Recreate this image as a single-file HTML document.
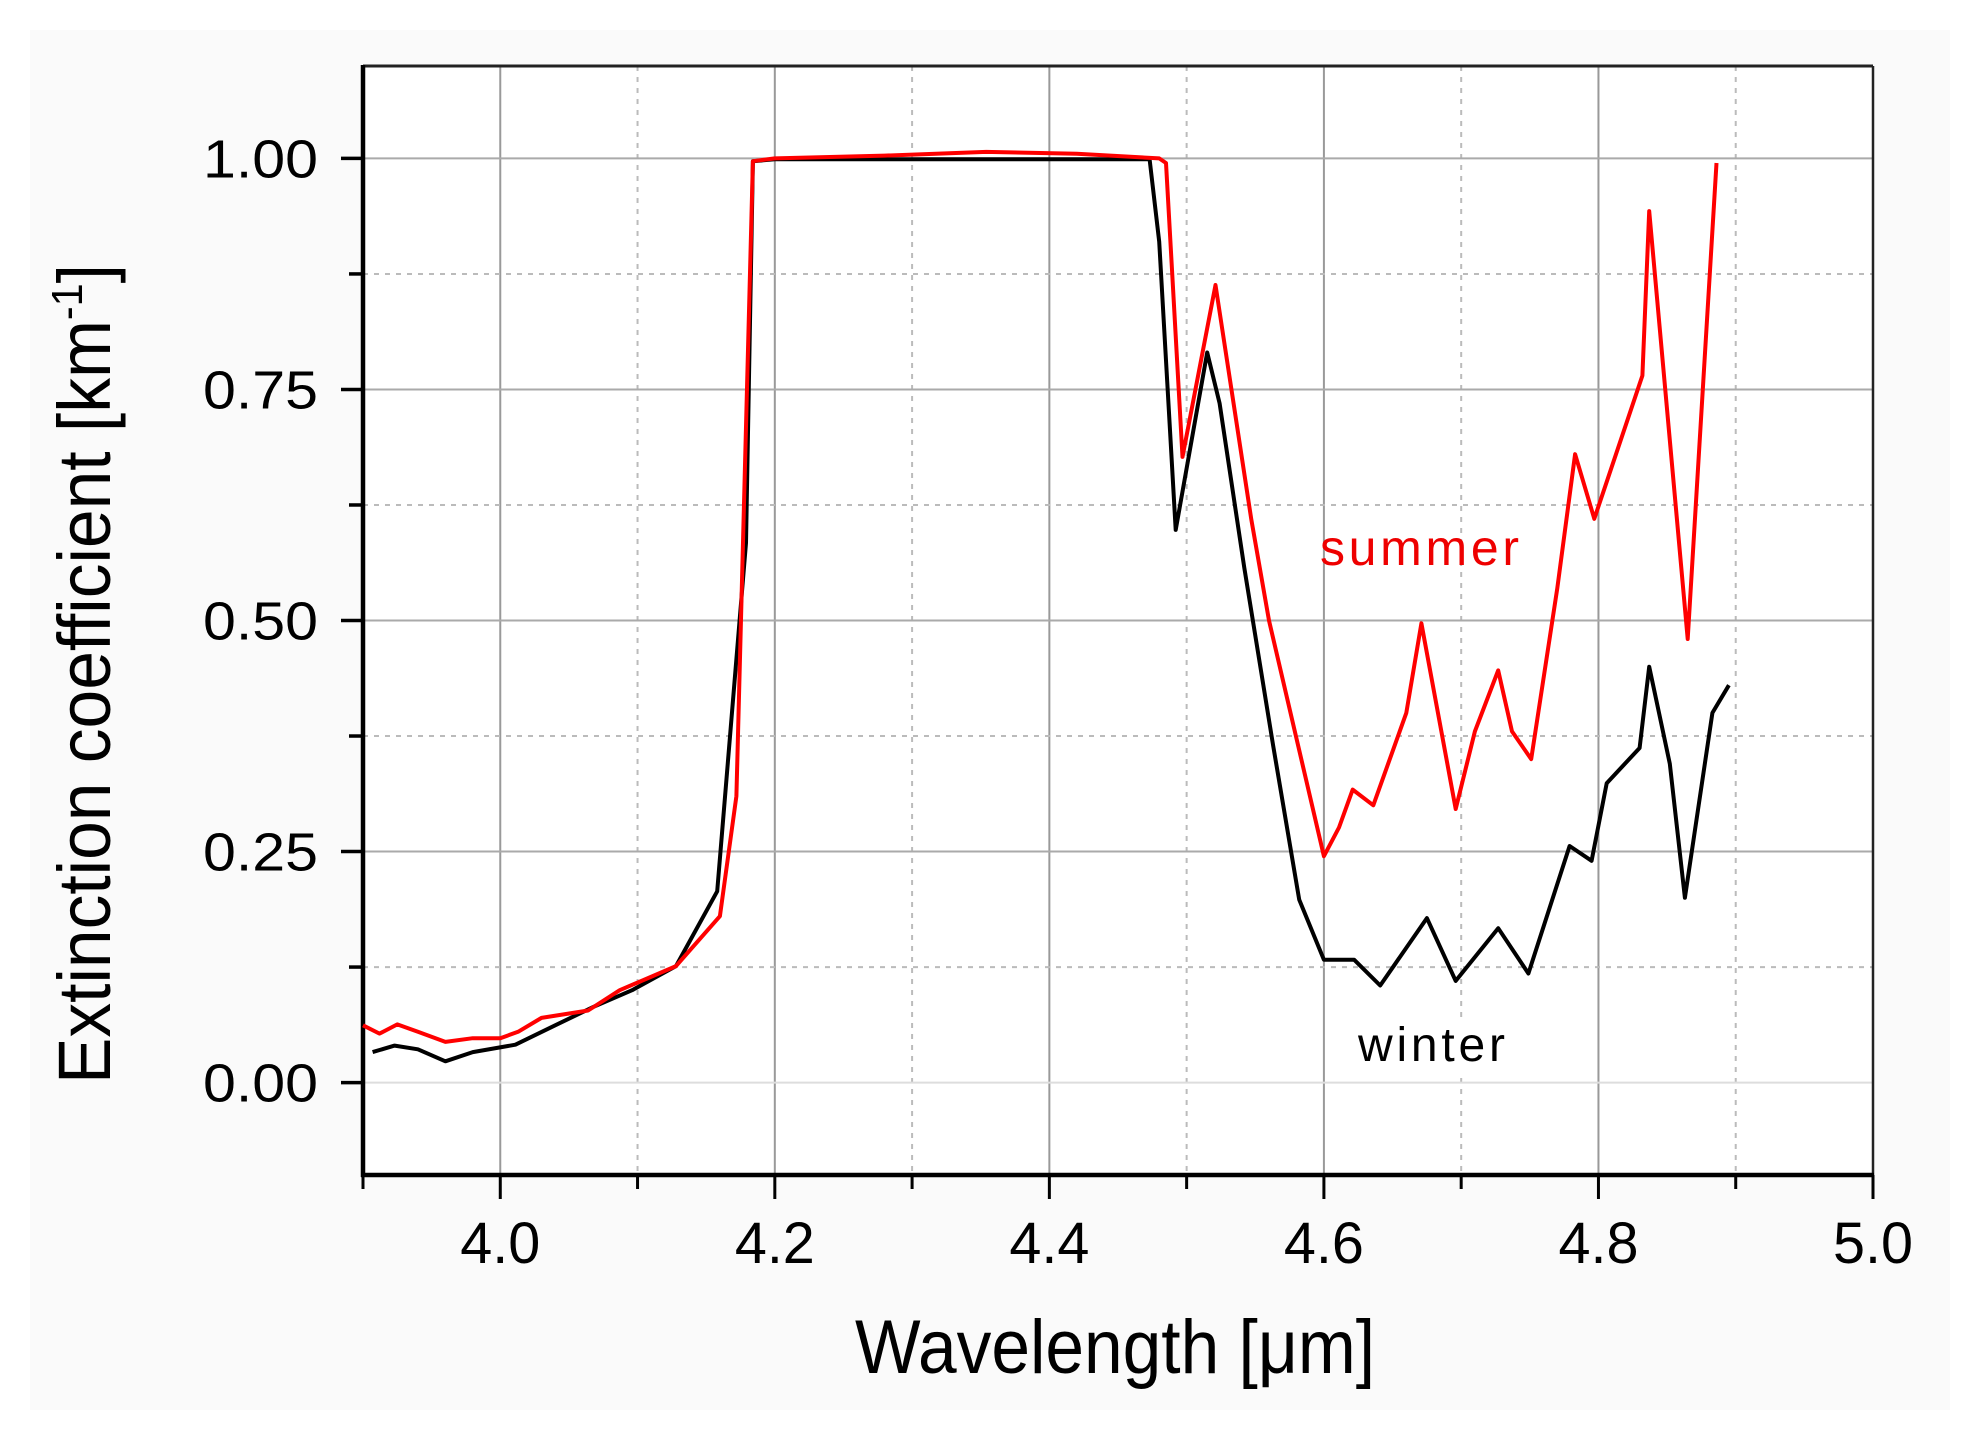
<!DOCTYPE html>
<html><head><meta charset="utf-8"><style>
html,body{margin:0;padding:0;background:#fff;}
svg{display:block;font-family:"Liberation Sans",Arial,sans-serif;}
</style></head><body>
<svg id="s" width="1980" height="1433" viewBox="0 0 1980 1433" xmlns="http://www.w3.org/2000/svg">
<rect x="0" y="0" width="1980" height="1433" fill="#fff"/>
<rect x="30" y="30" width="1920" height="1380" fill="#fafafa"/>
<rect x="363" y="66" width="1510" height="1109" fill="#fff"/>
<g id="grid"></g>
<g id="axes"></g>
<polyline id="winter" fill="none" stroke="#000" stroke-width="4" stroke-linejoin="round"/>
<polyline id="summer" fill="none" stroke="#f00" stroke-width="4" stroke-linejoin="round"/>
<rect x="1325" y="1018" width="215" height="58" fill="#fff"/>
<text x="1320" y="565" font-size="50" fill="#e00" textLength="199">summer</text>
<text x="1358" y="1061" font-size="48" fill="#000" textLength="147">winter</text>
<text x="1115" y="1373" font-size="76" text-anchor="middle" textLength="520" lengthAdjust="spacingAndGlyphs">Wavelength [μm]</text>
<text transform="translate(110,674) rotate(-90)" font-size="74" text-anchor="middle" textLength="820" lengthAdjust="spacingAndGlyphs">Extinction coefficient [km<tspan dy="-28" font-size="44">-1</tspan><tspan dy="28">]</tspan></text>
</svg>
<script>
const L=363,R=1873,T=66,B=1175;
const X=x=>L+(x-3.9)*(R-L)/1.1, Y=y=>T+(1.1-y)*(B-T)/1.2;
const ns="http://www.w3.org/2000/svg";
function el(p,tag,a,txt){const e=document.createElementNS(ns,tag);for(const k in a)e.setAttribute(k,a[k]);if(txt!==undefined)e.textContent=txt;p.appendChild(e);return e;}
const g=document.getElementById('grid'),ax=document.getElementById('axes');
for(let i=1;i<11;i++){const px=X(3.9+i*0.1);const major=(i%2==1);
 el(g,'line',{x1:px,x2:px,y1:T,y2:B,stroke:major?'#999':'#bbb','stroke-width':2,'stroke-dasharray':major?'':'5,6'});
}
for(let i=0;i<=8;i++){const y=i*0.125;const py=Y(y);const major=i%2==0;
 el(g,'line',{x1:L,x2:R,y1:py,y2:py,stroke:major?(i==0?'#ddd':'#aaa'):'#bbb','stroke-width':2,'stroke-dasharray':major?'':'5,6'});
 el(ax,'line',{x1:major?L-22:L-14,x2:L,y1:py,y2:py,stroke:'#000','stroke-width':3.5});
 if(major)el(ax,'text',{x:318,y:py+19,'font-size':54,'text-anchor':'end',textLength:115,lengthAdjust:'spacingAndGlyphs'},y.toFixed(2));
}
el(ax,'line',{x1:L,x2:R,y1:T,y2:T,stroke:'#222','stroke-width':3});
el(ax,'line',{x1:R,x2:R,y1:T,y2:B,stroke:'#222','stroke-width':2.5});
el(ax,'line',{x1:L,x2:L,y1:T-1,y2:B+2,stroke:'#000','stroke-width':4.5});
el(ax,'line',{x1:L-2,x2:R+1,y1:B,y2:B,stroke:'#000','stroke-width':4.5});
for(let i=0;i<=11;i++){const x=3.9+i*0.1;const px=X(x);const major=(i%2==1);
 el(ax,'line',{x1:px,x2:px,y1:B,y2:B+(major?24:14),stroke:'#000','stroke-width':3});
 if(major)el(ax,'text',{x:px,y:1263,'font-size':58,'text-anchor':'middle',textLength:80,lengthAdjust:'spacingAndGlyphs'},x.toFixed(1));
}
const red=[[3.9,0.062],[3.912,0.053],[3.925,0.063],[3.94,0.055],[3.96,0.044],[3.98,0.048],[4.0,0.048],[4.013,0.055],[4.03,0.07],[4.064,0.078],[4.087,0.10],[4.128,0.126],[4.16,0.18],[4.172,0.31],[4.184,0.997],[4.2,1.0],[4.28,1.003],[4.354,1.007],[4.42,1.005],[4.48,1.0],[4.485,0.995],[4.497,0.677],[4.521,0.863],[4.547,0.61],[4.56,0.50],[4.6,0.245],[4.611,0.276],[4.621,0.317],[4.636,0.30],[4.66,0.40],[4.671,0.497],[4.696,0.296],[4.71,0.38],[4.727,0.446],[4.737,0.38],[4.751,0.35],[4.77,0.535],[4.783,0.68],[4.797,0.61],[4.832,0.765],[4.837,0.943],[4.865,0.48],[4.886,0.995]];
const blk=[[3.907,0.033],[3.923,0.04],[3.94,0.036],[3.96,0.023],[3.98,0.033],[4.011,0.041],[4.04,0.062],[4.068,0.082],[4.096,0.10],[4.128,0.126],[4.158,0.207],[4.179,0.584],[4.184,0.997],[4.2,0.999],[4.473,0.999],[4.48,0.91],[4.492,0.598],[4.515,0.79],[4.524,0.735],[4.542,0.557],[4.563,0.365],[4.582,0.198],[4.6,0.133],[4.622,0.133],[4.641,0.105],[4.675,0.178],[4.696,0.11],[4.727,0.167],[4.749,0.118],[4.779,0.256],[4.795,0.24],[4.806,0.324],[4.83,0.362],[4.837,0.45],[4.852,0.345],[4.863,0.20],[4.883,0.40],[4.895,0.43]];
const pts=a=>a.map(p=>X(p[0]).toFixed(1)+','+Y(p[1]).toFixed(1)).join(' ');
document.getElementById('summer').setAttribute('points',pts(red));
document.getElementById('winter').setAttribute('points',pts(blk));
</script>
</body></html>
